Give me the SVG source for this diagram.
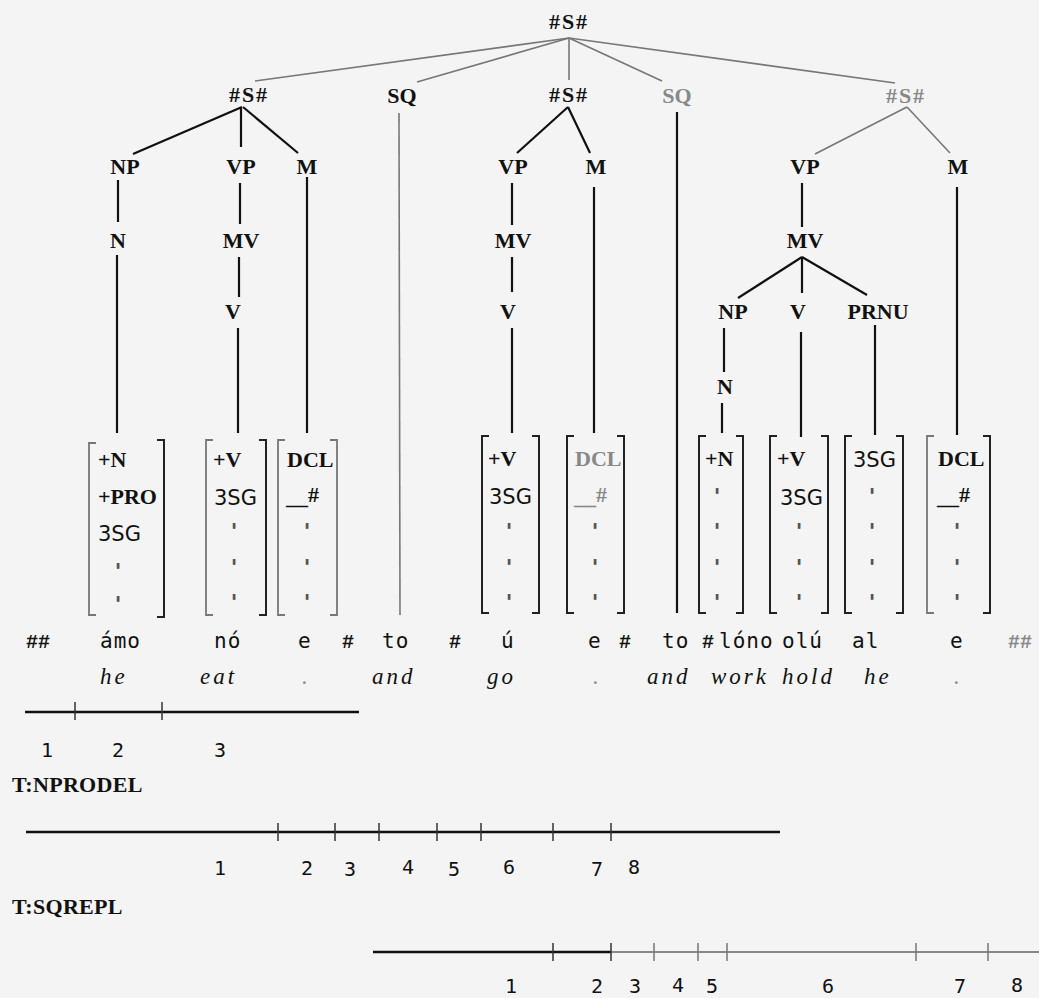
<svg xmlns="http://www.w3.org/2000/svg" width="1039" height="998" viewBox="0 0 1039 998">
<style>
.lab{font-family:"Liberation Serif","Times New Roman",serif;font-weight:bold;font-size:22px;fill:#111;text-anchor:middle}
.ss{letter-spacing:2px}
.bl{font-family:"Liberation Serif","Times New Roman",serif;font-weight:bold;font-size:22px;fill:#111}
.sg{font-family:"DejaVu Sans",sans-serif;font-size:21px;fill:#111}
.tk{font-family:"DejaVu Sans Mono",monospace;font-weight:bold;font-size:21px;fill:#555;text-anchor:middle}
.wd{font-family:"DejaVu Sans Mono",monospace;font-size:21px;fill:#111;letter-spacing:1px}
.hs{font-family:"Liberation Mono","Courier New",monospace;font-weight:bold;font-size:20px;fill:#111;text-anchor:middle}
.gl{font-family:"Liberation Serif","Times New Roman",serif;font-style:italic;font-size:23px;fill:#111;letter-spacing:3px}
.num{font-family:"DejaVu Sans Mono",monospace;font-size:20px;fill:#111;text-anchor:middle}
.tr{font-family:"Liberation Serif","Times New Roman",serif;font-weight:bold;font-size:22px;fill:#111;letter-spacing:0.3px}
.gray{fill:#888}
.e{stroke:#111;stroke-width:2.2;fill:none}
.eg{stroke:#777;stroke-width:1.6;fill:none}
.br{stroke:#222;stroke-width:2;fill:none}
.brg{stroke:#777;stroke-width:1.8;fill:none}
.rule{stroke:#111;stroke-width:2.4;fill:none}
.ruleg{stroke:#888;stroke-width:1.8;fill:none}
.tick{stroke:#333;stroke-width:1.5}
.tickg{stroke:#777;stroke-width:1.5}
</style>
<rect width="1039" height="998" fill="#f4f4f4"/>

<g id="connectors">
  <line class="eg" x1="569" y1="38" x2="255" y2="81"/>
  <line class="eg" x1="569" y1="38" x2="417" y2="82"/>
  <line class="eg" x1="569" y1="38" x2="569" y2="80"/>
  <line class="eg" x1="569" y1="38" x2="662" y2="81"/>
  <line class="eg" x1="569" y1="38" x2="895" y2="83"/>
  <line class="e" x1="242" y1="107" x2="133" y2="154"/>
  <line class="e" x1="241" y1="108" x2="241" y2="147"/>
  <line class="e" x1="243" y1="107" x2="298" y2="153"/>
  <line class="e" x1="118" y1="180" x2="118" y2="222"/>
  <line class="e" x1="240" y1="183" x2="240" y2="224"/>
  <line class="e" x1="239" y1="257" x2="239" y2="297"/>
  <line class="e" x1="117" y1="255" x2="117" y2="433"/>
  <line class="e" x1="238" y1="328" x2="238" y2="433"/>
  <line class="e" x1="307" y1="177" x2="307" y2="433"/>
  <line class="eg" x1="399" y1="113" x2="400" y2="615"/>
  <line class="e" x1="568" y1="107" x2="517" y2="153"/>
  <line class="e" x1="568" y1="107" x2="590" y2="153"/>
  <line class="e" x1="512" y1="183" x2="512" y2="225"/>
  <line class="e" x1="512" y1="257" x2="512" y2="292"/>
  <line class="e" x1="512" y1="328" x2="512" y2="433"/>
  <line class="e" x1="594" y1="187" x2="594" y2="433"/>
  <line class="e" x1="677" y1="112" x2="677" y2="613"/>
  <line class="eg" x1="907" y1="107" x2="815" y2="154"/>
  <line class="eg" x1="907" y1="107" x2="950" y2="153"/>
  <line class="e" x1="802" y1="183" x2="802" y2="227"/>
  <line class="e" x1="802" y1="257" x2="738" y2="298"/>
  <line class="e" x1="802" y1="257" x2="802" y2="293"/>
  <line class="e" x1="802" y1="257" x2="867" y2="295"/>
  <line class="e" x1="724" y1="328" x2="724" y2="372"/>
  <line class="e" x1="722" y1="403" x2="722" y2="433"/>
  <line class="e" x1="801" y1="332" x2="801" y2="437"/>
  <line class="e" x1="875" y1="325" x2="875" y2="435"/>
  <line class="e" x1="957" y1="187" x2="957" y2="435"/>
</g>

<g id="node-S-top"><text class="lab ss" x="569" y="29">#S#</text></g>
<g id="node-S1"><text class="lab ss" x="249" y="102">#S#</text></g>
<g id="node-SQ1"><text class="lab" x="402" y="103">SQ</text></g>
<g id="node-S2"><text class="lab ss" x="569" y="102">#S#</text></g>
<g id="node-SQ2"><text class="lab gray" x="677" y="103">SQ</text></g>
<g id="node-S3"><text class="lab ss gray" x="906" y="103">#S#</text></g>

<g id="node-NP1"><text class="lab" x="125" y="174">NP</text></g>
<g id="node-VP1"><text class="lab" x="241" y="174">VP</text></g>
<g id="node-M1"><text class="lab" x="307" y="174">M</text></g>
<g id="node-N1"><text class="lab" x="118" y="248">N</text></g>
<g id="node-MV1"><text class="lab" x="241" y="248">MV</text></g>
<g id="node-V1"><text class="lab" x="233" y="319">V</text></g>

<g id="node-VP2"><text class="lab" x="513" y="174">VP</text></g>
<g id="node-M2"><text class="lab" x="596" y="174">M</text></g>
<g id="node-MV2"><text class="lab" x="513" y="248">MV</text></g>
<g id="node-V2"><text class="lab" x="508" y="319">V</text></g>

<g id="node-VP3"><text class="lab" x="805" y="174">VP</text></g>
<g id="node-M3"><text class="lab" x="958" y="174">M</text></g>
<g id="node-MV3"><text class="lab" x="805" y="248">MV</text></g>
<g id="node-NP3"><text class="lab" x="733" y="319">NP</text></g>
<g id="node-V3"><text class="lab" x="798" y="319">V</text></g>
<g id="node-PRNU"><text class="lab" x="878" y="319">PRNU</text></g>
<g id="node-N3"><text class="lab" x="725" y="394">N</text></g>

<g id="node-B1">
  <path class="brg" d="M96,443 H89 V615 H96"/>
  <path class="br" d="M157,440 H164 V617 H157"/>
  <text class="bl" x="98" y="467">+N</text>
  <text class="bl" x="98" y="504">+PRO</text>
  <text class="sg" x="98" y="541">3SG</text>
  <text class="tk" x="118" y="579">'</text>
  <text class="tk" x="118" y="612">'</text>
</g>
<g id="node-B2">
  <path class="brg" d="M213,440 H206 V615 H213"/>
  <path class="br" d="M259,440 H266 V615 H259"/>
  <text class="bl" x="213" y="467">+V</text>
  <text class="sg" x="214" y="505">3SG</text>
  <text class="tk" x="234" y="539">'</text>
  <text class="tk" x="234" y="575">'</text>
  <text class="tk" x="234" y="610">'</text>
</g>
<g id="node-B3">
  <path class="brg" d="M285,440 H278 V615 H285"/>
  <path class="brg" d="M330,440 H337 V615 H330"/>
  <text class="bl" x="287" y="467">DCL</text>
  <text class="bl" x="286" y="504">__<tspan dy="-2">#</tspan></text>
  <text class="tk" x="307" y="539">'</text>
  <text class="tk" x="307" y="575">'</text>
  <text class="tk" x="307" y="610">'</text>
</g>
<g id="node-B4">
  <path class="br" d="M489,436 H482 V613 H489"/>
  <path class="br" d="M532,436 H539 V613 H532"/>
  <text class="bl" x="488" y="466">+V</text>
  <text class="sg" x="489" y="504">3SG</text>
  <text class="tk" x="509" y="539">'</text>
  <text class="tk" x="509" y="575">'</text>
  <text class="tk" x="509" y="610">'</text>
</g>
<g id="node-B5">
  <path class="br" d="M574,436 H567 V613 H574"/>
  <path class="br" d="M617,436 H624 V613 H617"/>
  <text class="bl gray" x="575" y="466">DCL</text>
  <text class="bl gray" x="574" y="504">__<tspan dy="-2">#</tspan></text>
  <text class="tk" x="595" y="539">'</text>
  <text class="tk" x="595" y="575">'</text>
  <text class="tk" x="595" y="610">'</text>
</g>
<g id="node-B6">
  <path class="br" d="M706,436 H699 V613 H706"/>
  <path class="br" d="M736,436 H743 V613 H736"/>
  <text class="bl" x="705" y="466">+N</text>
  <text class="tk" x="717" y="504">'</text>
  <text class="tk" x="717" y="539">'</text>
  <text class="tk" x="717" y="575">'</text>
  <text class="tk" x="717" y="610">'</text>
</g>
<g id="node-B7">
  <path class="br" d="M777,436 H770 V613 H777"/>
  <path class="br" d="M821,436 H828 V613 H821"/>
  <text class="bl" x="777" y="466">+V</text>
  <text class="sg" x="780" y="505">3SG</text>
  <text class="tk" x="799" y="539">'</text>
  <text class="tk" x="799" y="575">'</text>
  <text class="tk" x="799" y="610">'</text>
</g>
<g id="node-B8">
  <path class="br" d="M852,436 H845 V613 H852"/>
  <path class="br" d="M896,436 H903 V613 H896"/>
  <text class="sg" x="853" y="467">3SG</text>
  <text class="tk" x="872" y="504">'</text>
  <text class="tk" x="872" y="539">'</text>
  <text class="tk" x="872" y="575">'</text>
  <text class="tk" x="872" y="610">'</text>
</g>
<g id="node-B9">
  <path class="brg" d="M934,436 H927 V613 H934"/>
  <path class="br" d="M983,436 H990 V613 H983"/>
  <text class="bl" x="938" y="466">DCL</text>
  <text class="bl" x="937" y="504">__<tspan dy="-2">#</tspan></text>
  <text class="tk" x="957" y="539">'</text>
  <text class="tk" x="957" y="575">'</text>
  <text class="tk" x="957" y="610">'</text>
</g>

<g id="words">
  <text class="hs" x="38" y="648">##</text>
  <text class="wd" x="100" y="648">ámo</text>
  <text class="wd" x="214" y="648">nó</text>
  <text class="wd" x="298" y="648">e</text>
  <text class="hs" x="348" y="648">#</text>
  <text class="wd" x="382" y="648">to</text>
  <text class="hs" x="455" y="648">#</text>
  <text class="wd" x="501" y="648">ú</text>
  <text class="wd" x="588" y="648">e</text>
  <text class="hs" x="625" y="648">#</text>
  <text class="wd" x="662" y="648">to</text>
  <text class="hs" x="708" y="648">#</text>
  <text class="wd" x="719" y="648">lóno</text>
  <text class="wd" x="782" y="648">olú</text>
  <text class="wd" x="852" y="648">al</text>
  <text class="wd" x="950" y="648">e</text>
  <text class="hs gray" x="1020" y="648">##</text>
</g>
<g id="glosses">
  <text class="gl" x="100" y="684">he</text>
  <text class="gl" x="200" y="684">eat</text>
  <text class="gl gray" x="302" y="684">.</text>
  <text class="gl" x="372" y="684">and</text>
  <text class="gl" x="487" y="684">go</text>
  <text class="gl gray" x="593" y="684">.</text>
  <text class="gl" x="647" y="684">and</text>
  <text class="gl" x="711" y="684">work</text>
  <text class="gl" x="782" y="684">hold</text>
  <text class="gl" x="864" y="684">he</text>
  <text class="gl gray" x="954" y="684">.</text>
</g>

<g id="analysis-1">
  <line class="rule" x1="25" y1="712" x2="359" y2="712"/>
  <line class="tick" x1="75" y1="702" x2="75" y2="720"/>
  <line class="tick" x1="162" y1="702" x2="162" y2="720"/>
  <text class="num" x="47" y="757">1</text>
  <text class="num" x="118" y="757">2</text>
  <text class="num" x="220" y="757">3</text>
</g>
<g id="label-T1"><text class="tr" x="12" y="792">T:NPRODEL</text></g>

<g id="analysis-2">
  <line class="rule" x1="26" y1="832" x2="780" y2="832"/>
  <line class="tick" x1="278" y1="823" x2="278" y2="841"/>
  <line class="tick" x1="335" y1="823" x2="335" y2="841"/>
  <line class="tick" x1="379" y1="823" x2="379" y2="841"/>
  <line class="tick" x1="437" y1="823" x2="437" y2="841"/>
  <line class="tick" x1="481" y1="823" x2="481" y2="841"/>
  <line class="tick" x1="553" y1="823" x2="553" y2="841"/>
  <line class="tick" x1="611" y1="823" x2="611" y2="841"/>
  <text class="num" x="220" y="875">1</text>
  <text class="num" x="307" y="875">2</text>
  <text class="num" x="350" y="876">3</text>
  <text class="num" x="408" y="874">4</text>
  <text class="num" x="454" y="876">5</text>
  <text class="num" x="509" y="874">6</text>
  <text class="num" x="597" y="876">7</text>
  <text class="num" x="634" y="874">8</text>
</g>
<g id="label-T2"><text class="tr" x="12" y="914">T:SQREPL</text></g>

<g id="analysis-3">
  <line class="rule" x1="373" y1="952" x2="611" y2="952"/>
  <line class="ruleg" x1="611" y1="952" x2="1039" y2="952"/>
  <line class="tick" x1="553" y1="943" x2="553" y2="961"/>
  <line class="tick" x1="611" y1="943" x2="611" y2="961"/>
  <line class="tickg" x1="654" y1="943" x2="654" y2="961"/>
  <line class="tickg" x1="698" y1="943" x2="698" y2="961"/>
  <line class="tickg" x1="727" y1="943" x2="727" y2="961"/>
  <line class="tickg" x1="916" y1="943" x2="916" y2="961"/>
  <line class="tickg" x1="988" y1="943" x2="988" y2="961"/>
  <text class="num" x="511" y="993">1</text>
  <text class="num" x="597" y="993">2</text>
  <text class="num" x="635" y="993">3</text>
  <text class="num" x="678" y="992">4</text>
  <text class="num" x="712" y="993">5</text>
  <text class="num" x="828" y="993">6</text>
  <text class="num" x="960" y="993">7</text>
  <text class="num" x="1017" y="992">8</text>
</g>
</svg>
